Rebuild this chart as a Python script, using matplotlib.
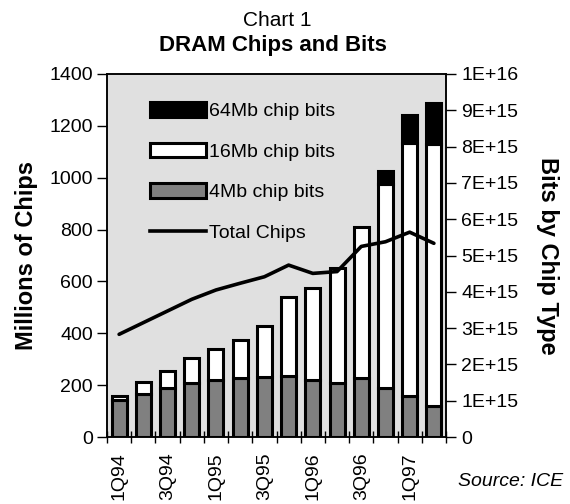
import matplotlib
matplotlib.use("Agg")
import matplotlib.pyplot as plt
import numpy as np
from matplotlib.patches import Patch
from matplotlib.lines import Line2D
from matplotlib.ticker import FuncFormatter, MultipleLocator, FixedLocator

plt.rcParams["font.family"] = ["Liberation Sans", "DejaVu Sans"]

# ---------------------------------------------------------------------------
# Data: DRAM shipments by quarter
# ---------------------------------------------------------------------------

quarters = ["1Q94", "2Q94", "3Q94", "4Q94", "1Q95", "2Q95", "3Q95", "4Q95",
            "1Q96", "2Q96", "3Q96", "4Q96", "1Q97", "2Q97"]

# bits shipped, in units of 1E+15
bits_4mb = [1.02, 1.18, 1.34, 1.48, 1.57, 1.62, 1.66, 1.69,
            1.57, 1.48, 1.62, 1.36, 1.13, 0.86]
bits_16mb = [0.11, 0.34, 0.49, 0.70, 0.85, 1.05, 1.40, 2.16,
             2.53, 3.17, 4.17, 5.60, 6.98, 7.20]
bits_64mb = [0, 0, 0, 0, 0, 0, 0, 0,
             0, 0, 0, 0.37, 0.76, 1.13]

# total chips shipped, millions
total_chips = [396, 441, 486, 531, 567, 593, 618, 663,
               631, 638, 735, 753, 790, 747]

BG = "#e0e0e0"
GRAY = "#808080"

# ---------------------------------------------------------------------------
# Plot
# ---------------------------------------------------------------------------

fig = plt.figure(figsize=(5.7, 5.04), dpi=100)
ax = fig.add_axes([107 / 570, 67 / 504, 339 / 570, 363 / 504])
ax2 = ax.twinx()

x = np.arange(len(quarters))
scale = 1e15
b4 = np.array(bits_4mb) * scale
b16 = np.array(bits_16mb) * scale
b64 = np.array(bits_64mb) * scale

bar_kw = dict(width=0.62, edgecolor="black", linewidth=2.2)
ax2.bar(x, b4, color=GRAY, **bar_kw)
ax2.bar(x, b16, bottom=b4, color="white", **bar_kw)
mask = b64 > 0
ax2.bar(x[mask], b64[mask], bottom=(b4 + b16)[mask], color="black", **bar_kw)

ax.plot(x, total_chips, color="black", linewidth=2.6, solid_joinstyle="round",
        solid_capstyle="round")

# line axis sits above the bars; bar axis carries the gray background
ax.set_zorder(ax2.get_zorder() + 1)
ax.patch.set_visible(False)
ax2.patch.set_visible(True)
ax2.patch.set_facecolor(BG)

ax.set_xlim(-0.5, len(quarters) - 0.5)
ax.set_ylim(0, 1400)
ax2.set_ylim(0, 1e16)

ax.yaxis.set_major_locator(MultipleLocator(200))
ax2.yaxis.set_major_locator(MultipleLocator(1e15))
ax2.yaxis.set_major_formatter(
    FuncFormatter(lambda v, p: "0" if v == 0 else f"{v:.0E}"))

ax.xaxis.set_major_locator(FixedLocator(x[::2]))
ax.set_xticklabels(quarters[::2], rotation=90, va="top", ha="center")
ax.xaxis.set_minor_locator(FixedLocator(np.arange(-0.5, len(quarters), 1.0)))
ax.tick_params(axis="x", which="major", length=0, pad=11, labelsize=14)
ax.tick_params(axis="x", which="minor", direction="inout", length=9, width=1)
ax.tick_params(axis="y", direction="out", length=7, width=1, labelsize=14, pad=3)
ax2.tick_params(axis="y", direction="out", length=7, width=1, labelsize=14, pad=4)

for a in (ax, ax2):
    for s in a.spines.values():
        s.set_linewidth(1.1)
        s.set_color("black")

ax.set_ylabel("Millions of Chips", fontsize=17, fontweight="bold")
ax.yaxis.set_label_coords(-0.205, 0.5)
ax2.set_ylabel("Bits by Chip Type", fontsize=17, fontweight="bold",
               rotation=-90, va="bottom")
ax2.yaxis.set_label_coords(1.265, 0.5)

fig.text(277 / 570, 1 - 21 / 504, "Chart 1", ha="center", va="center",
         fontsize=15)
fig.text(273 / 570, 1 - 46 / 504, "DRAM Chips and Bits", ha="center",
         va="center", fontsize=16, fontweight="bold")
fig.text(511 / 570, 1 - 482 / 504, "Source: ICE", ha="center", va="center",
         fontsize=14, style="italic")

handles = [
    Patch(facecolor="black", edgecolor="black", linewidth=2.2, label="64Mb chip bits"),
    Patch(facecolor="white", edgecolor="black", linewidth=2.2, label="16Mb chip bits"),
    Patch(facecolor=GRAY, edgecolor="black", linewidth=2.2, label="4Mb chip bits"),
    Line2D([0], [0], color="black", linewidth=2.6, label="Total Chips"),
]
ax.legend(handles=handles, loc="upper left",
          bbox_to_anchor=((150 - 107) / 339, (437 - 102) / 363),
          frameon=False, fontsize=14, borderpad=0, borderaxespad=0,
          handlelength=2.9, handleheight=0.8, handletextpad=0.15,
          labelspacing=1.15)

fig.savefig("out.png", dpi=100, facecolor="white")
